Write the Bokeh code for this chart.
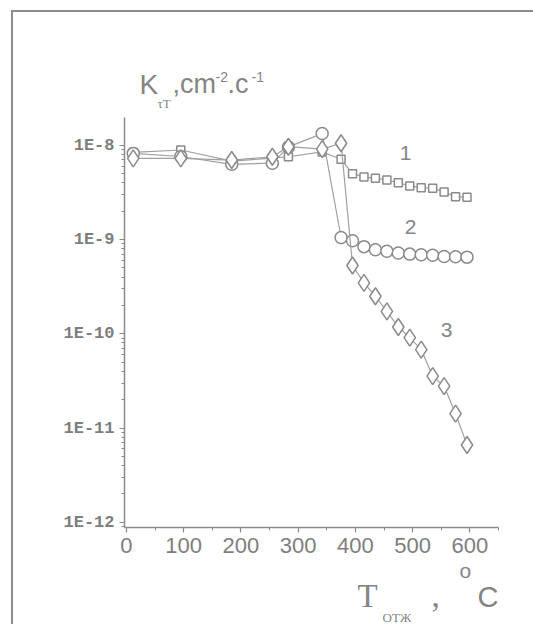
import math
from bokeh.plotting import figure
from bokeh.models import (Range1d, Label, FixedTicker, LogTicker, CustomJSTickFormatter)
from bokeh.embed import file_html
from bokeh.resources import INLINE

# ---------------- data ----------------
temps = [12, 95, 184, 255, 283, 342, 375, 395, 415, 435, 455, 475, 495, 515, 535, 555, 575, 595]
k_curve1 = [8.4e-9, 8.9e-9, 6.8e-9, 7.3e-9, 7.55e-9, 8.5e-9, 7.1e-9, 5.0e-9, 4.6e-9, 4.47e-9,
            4.28e-9, 4.0e-9, 3.7e-9, 3.55e-9, 3.5e-9, 3.2e-9, 2.85e-9, 2.8e-9]
k_curve2 = [8.2e-9, 7.6e-9, 6.28e-9, 6.45e-9, 9.6e-9, 1.33e-8, 1.05e-9, 9.7e-10, 8.4e-10, 7.8e-10,
            7.5e-10, 7.2e-10, 7.0e-10, 6.9e-10, 6.8e-10, 6.6e-10, 6.55e-10, 6.5e-10]
k_curve3 = [7.26e-9, 7.26e-9, 6.97e-9, 7.55e-9, 9.65e-9, 9.1e-9, 1.05e-8, 5.3e-10, 3.46e-10, 2.5e-10,
            1.73e-10, 1.18e-10, 9.1e-11, 6.8e-11, 3.55e-11, 2.78e-11, 1.42e-11, 6.6e-12]
curve_names = ["1", "2", "3"]
x_tick_values = [0, 100, 200, 300, 400, 500, 600]

# ---------------- layout ----------------
W, H = 533, 624
BL, BR, BT, BB = 124, 35, 117, 97
X0, X1 = -3.3, 650.0
Y0, Y1 = 8.8e-13, 1.97e-8
FW, FH = W - BL - BR, H - BT - BB


def xd(px):
    return X0 + (px - BL) / FW * (X1 - X0)


def yd(py):
    lt, lb = math.log10(Y1), math.log10(Y0)
    return 10 ** (lt - (py - BT) / FH * (lt - lb))


GRAY = "#8a8a8a"
TEXT = "#858585"

border_css = {
    "background-image": "linear-gradient(#8c8c8c,#8c8c8c), linear-gradient(#8c8c8c,#8c8c8c)",
    "background-size": "2px 100%, 100% 2px",
    "background-position": "11px 10px, 11px 10px",
    "background-repeat": "no-repeat",
}

p = figure(width=W, height=H, y_axis_type="log",
           x_range=Range1d(X0, X1), y_range=Range1d(Y0, Y1),
           output_backend="svg", toolbar_location=None,
           min_border_left=BL, min_border_right=BR,
           min_border_top=BT, min_border_bottom=BB, styles=border_css)
p.outline_line_color = None
p.xgrid.visible = False
p.ygrid.visible = False
p.background_fill_color = None
p.border_fill_color = None

for ax in (p.xaxis[0], p.yaxis[0]):
    ax.axis_line_color = GRAY
    ax.axis_line_width = 1.5
    ax.major_tick_line_color = GRAY
    ax.minor_tick_line_color = GRAY
    ax.major_tick_line_width = 1.2
    ax.major_tick_in = 0
    ax.major_tick_out = 5
    ax.minor_tick_in = 0
    ax.minor_tick_out = 3
    ax.major_label_text_color = "#7e7e7e"

minor_x = [(a + b) / 2 for a, b in zip(x_tick_values[:-1], x_tick_values[1:])] + [x_tick_values[-1] + 50]
p.xaxis.ticker = FixedTicker(ticks=x_tick_values, minor_ticks=minor_x)
p.xaxis.major_label_text_font = "Liberation Sans"
p.xaxis.major_label_text_font_size = "22px"
p.xaxis.major_label_standoff = 5

p.yaxis.ticker = LogTicker(desired_num_ticks=5, num_minor_ticks=10)
p.yaxis.formatter = CustomJSTickFormatter(code="return '1E' + Math.round(Math.log10(tick));")
p.yaxis.major_label_text_font = "Liberation Mono"
p.yaxis.major_label_text_font_size = "17px"
p.yaxis.major_label_text_font_style = "bold"
p.yaxis.major_label_standoff = 5

markers = [("square", 8), ("circle", 12), ("diamond", 17)]
for vals, (mk, sz) in zip([k_curve1, k_curve2, k_curve3], markers):
    p.line(temps, vals, line_color="#a0a0a0", line_width=1.2)
    p.scatter(temps, vals, marker=mk, size=sz, fill_color="white",
              line_color=GRAY, line_width=1.5)

num_pos = [(405, 152.5), (410, 226), (446, 329.5)]
for name, (px, py) in zip(curve_names, num_pos):
    p.add_layout(Label(x=xd(px), y=yd(py), text=name, text_align="center",
                       text_baseline="middle", text_font="Liberation Sans",
                       text_font_size="21px", text_color=TEXT))


def lab(px, py, txt, size, side, font="Liberation Sans"):
    p.add_layout(Label(x=px, y=py, x_units="canvas", y_units="canvas", text=txt,
                       text_align="left", text_baseline="middle", text_font=font,
                       text_font_size=size, text_color=TEXT), side)


# y title: K_τT, cm^-2.c^-1
lab(139, 83.5, "K", "28px", "above")
lab(172, 83.5, ",cm", "27px", "above")
lab(227, 83.5, ".c", "27px", "above")
lab(157, 102.5, "τT", "13px", "left", "Liberation Serif")
lab(215, 76.8, "-2", "14px", "left")
lab(251, 76.8, "-1", "14px", "left")

# x title: T_отж , °C
lab(357, 595.5, "T", "33px", "below", "Liberation Serif")
lab(382, 617, "ОТЖ", "13px", "below", "Liberation Serif")
lab(431, 595.5, ",", "33px", "left", "Liberation Serif")
lab(459, 570, "o", "21px", "left")
lab(477, 596.5, "C", "29px", "right")

open("out.html", "w").write(file_html(p, INLINE))
